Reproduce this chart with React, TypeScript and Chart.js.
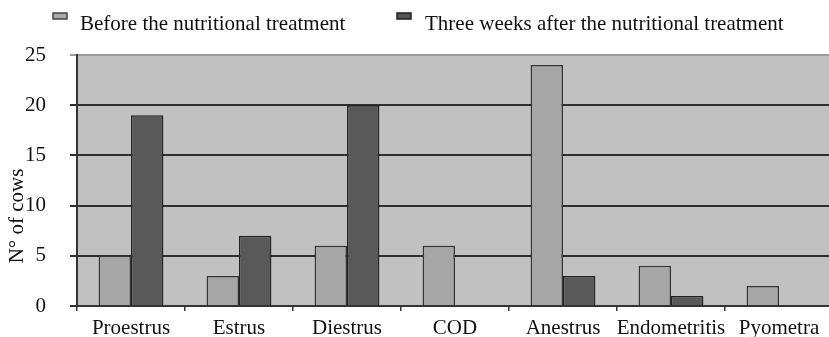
import React, { useEffect, useRef } from "react";
import { Chart, registerables } from "chart.js";

Chart.register(...registerables);

const categories = ["Proestrus", "Estrus", "Diestrus", "COD", "Anestrus", "Endometritis", "Pyometra"];
const beforeValues = [5, 3, 6, 6, 24, 4, 2];
const afterValues = [19, 7, 20, 0, 3, 1, 0];
const seriesLabels = ["Before the nutritional treatment", "Three weeks after the nutritional treatment"];
const yTitle = "N° of cows";

const FONT = "'Liberation Serif', 'Times New Roman', serif";

export default function App() {
  const ref = useRef<HTMLCanvasElement | null>(null);

  useEffect(() => {
    document.body.style.margin = "0";
    document.body.style.overflow = "hidden";
    const bgPlugin = {
      id: "bg",
      beforeDraw(chart: any) {
        const { ctx, chartArea } = chart;
        ctx.save();
        ctx.fillStyle = "#c1c1c1";
        ctx.fillRect(chartArea.left, chartArea.top, chartArea.right - chartArea.left, chartArea.bottom - chartArea.top);
        ctx.restore();
      },
      afterDraw(chart: any) {
        const { ctx } = chart;
        ctx.save();
        ctx.fillStyle = "#111";
        ctx.font = `21px ${FONT}`;
        ctx.translate(17, 216);
        ctx.rotate(-Math.PI / 2);
        ctx.textAlign = "center";
        ctx.textBaseline = "middle";
        ctx.fillText(yTitle, 0, 0);
        ctx.restore();
        ctx.save();
        ctx.font = `21px ${FONT}`;
        ctx.textBaseline = "alphabetic";
        const items = [
          { x: 53, tx: 80, fill: "#a8a8a8", stroke: "#444" },
          { x: 397, tx: 425, fill: "#555555", stroke: "#222" },
        ];
        items.forEach((it, i) => {
          ctx.fillStyle = it.fill;
          ctx.strokeStyle = it.stroke;
          ctx.lineWidth = 1.5;
          ctx.fillRect(it.x, 13, 14, 6);
          ctx.strokeRect(it.x, 13, 14, 6);
          ctx.fillStyle = "#111";
          ctx.fillText(seriesLabels[i], it.tx, 30);
        });
        ctx.restore();
      },
    };

    const chart = new Chart(ref.current as HTMLCanvasElement, {
      type: "bar",
      data: {
        labels: categories,
        datasets: [
          {
            label: seriesLabels[0],
            data: beforeValues,
            backgroundColor: "#a6a6a6",
            borderColor: "#333",
            borderWidth: 1.5,
            categoryPercentage: 0.6,
            barPercentage: 1.0,
          },
          {
            label: seriesLabels[1],
            data: afterValues,
            backgroundColor: "#595959",
            borderColor: "#222",
            borderWidth: 1.5,
            categoryPercentage: 0.6,
            barPercentage: 1.0,
          },
        ],
      },
      options: {
        animation: false,
        responsive: false,
        maintainAspectRatio: false,
        layout: { padding: { top: 55, left: 0, right: 2, bottom: 0 } },
        plugins: {
          legend: { display: false },
          tooltip: { enabled: false },
        },
        scales: {
          x: {
            offset: true,
            grid: {
              display: true,
              offset: true,
              drawOnChartArea: false,
              drawTicks: true,
              tickLength: 5,
              color: "#333",
              lineWidth: 1.5,
            },
            border: { display: true, color: "#333", width: 2 },
            ticks: {
              color: "#111",
              font: { family: FONT, size: 21 },
              padding: 5,
              maxRotation: 0,
              autoSkip: false,
            },
            afterFit(scale: any) {
              scale.height = 31;
              scale.paddingLeft = 0;
              scale.paddingRight = 0;
            },
          },
          y: {
            min: 0,
            max: 25,
            ticks: {
              stepSize: 5,
              color: "#111",
              font: { family: FONT, size: 21 },
              padding: 24,
            },
            grid: {
              color: (c: any) => (c.tick && c.tick.value === 25 ? "#9a9a9a" : "#2e2e2e"),
              lineWidth: 2,
              tickLength: 7,
              drawTicks: true,
            },
            border: { display: true, color: "#333", width: 2 },
            afterFit(scale: any) {
              scale.width = 77;
              scale.paddingTop = 0;
              scale.paddingBottom = 0;
            },
          },
        },
      },
      plugins: [bgPlugin],
    });
    return () => chart.destroy();
  }, []);

  return (
    <div style={{ position: "fixed", left: 0, top: 0, width: 835, height: 337 }}>
      <canvas ref={ref} width={835} height={337} style={{ width: 835, height: 337, display: "block" }} />
    </div>
  );
}
